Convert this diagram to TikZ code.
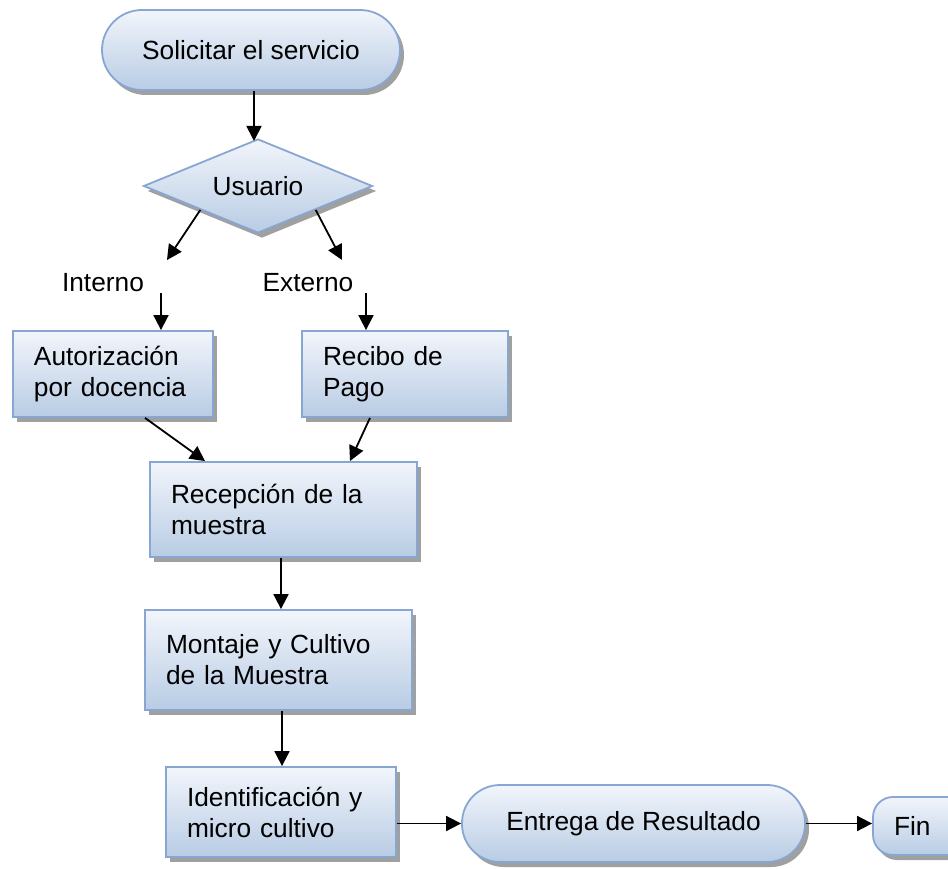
\documentclass[tikz,border=0pt]{standalone}
\usepackage{fontspec}
\setmainfont{Liberation Sans}
\usetikzlibrary{shapes.geometric,shadows,arrows.meta}
\definecolor{bord}{RGB}{135,166,210}
\definecolor{ctop}{RGB}{242,245,251}
\definecolor{cbot}{RGB}{184,204,228}
\definecolor{shad}{RGB}{160,160,160}
\tikzset{
  shp/.style={draw=bord, line width=1.8pt, top color=ctop, bottom color=cbot,
    drop shadow={shadow xshift=4pt,shadow yshift=-5pt,fill=shad,opacity=1},
    font=\fontsize{26.3}{31}\selectfont, inner ysep=0pt},
  box/.style={shp, rectangle, align=left, inner xsep=21pt},
  term/.style={shp, rectangle, align=center, inner xsep=0pt},
  dec/.style={shp, diamond, inner sep=0pt, aspect=2.4},
  lbl/.style={font=\fontsize{26.3}{31}\selectfont, inner sep=0pt},
  arr/.style={line width=1.8pt, -{Triangle[length=15pt,width=15pt]}}
}
\begin{document}
\begin{tikzpicture}[x=1pt,y=-1pt]
\useasboundingbox (0,0) rectangle (948,869);
\clip (0,0) rectangle (948,869);
\node[term, rounded corners=40pt, minimum width=298pt, minimum height=80pt] (sol) at (251,50) {Solicitar el servicio};
\node[dec, minimum width=229pt, minimum height=94pt] (usu) at (258,186) {Usuario};
\node[lbl] (int) at (103,283) {Interno};
\node[lbl] (ext) at (308,283) {Externo};
\node[box, text width=158pt, minimum height=86pt] (aut) at (113,374) {Autorización\\por docencia};
\node[box, text width=164pt, minimum height=86pt] (rcb) at (405,374) {Recibo de\\Pago};
\node[box, text width=225pt, minimum height=95pt] (rec) at (283.5,509.5) {Recepción de la\\muestra};
\node[box, text width=225pt, minimum height=100pt] (mon) at (278.5,660) {Montaje y Cultivo\\de la Muestra};
\node[box, text width=188pt, minimum height=90pt] (idn) at (281,812) {Identificación y\\micro cultivo};
\node[term, rounded corners=38pt, minimum width=343pt, minimum height=77pt] (ent) at (633.5,823.5) {Entrega de Resultado};
\node[box, rounded corners=20pt, text width=85pt, minimum height=58pt] (fin) at (936.5,826) {Fin};
\coordinate (li) at (167,260);
\coordinate (ri) at (342,260);
\coordinate (ai) at (161,293);
\coordinate (ei) at (366,293);
\draw[arr] (254,0 |- sol.south) -- (254,141);
\draw[arr] (usu.south west) -- (li);
\draw[arr] (usu.south east) -- (ri);
\draw[arr] (ai) -- (ai |- aut.north);
\draw[arr] (ei) -- (ei |- rcb.north);
\draw[arr] (145,0 |- aut.south) -- (205,0 |- rec.north);
\draw[arr] (370,0 |- rcb.south) -- (350,0 |- rec.north);
\draw[arr] (281,0 |- rec.south) -- (281,0 |- mon.north);
\draw[arr] (282,0 |- mon.south) -- (282,0 |- idn.north);
\draw[arr] (idn.east |- ent.west) -- (ent.west);
\draw[arr] (ent.east) -- (ent.east -| fin.west);
\end{tikzpicture}
\end{document}
